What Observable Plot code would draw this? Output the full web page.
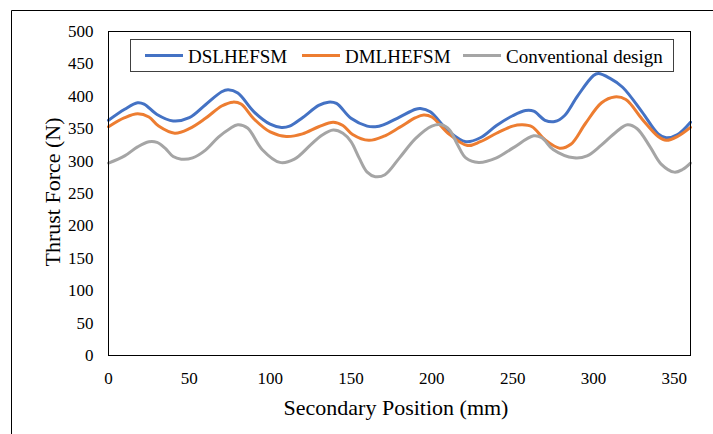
<!DOCTYPE html>
<html>
<head>
<meta charset="utf-8">
<script src="https://cdn.jsdelivr.net/npm/d3@7"></script>
<script src="https://cdn.jsdelivr.net/npm/@observablehq/plot@0.6"></script>
<style>
  html, body { margin: 0; padding: 0; background: #fff; }
  #chart { width: 713px; height: 434px; overflow: hidden; }
  #chart svg, #chart svg text { font-family: "Liberation Serif", "Times New Roman", serif !important; }
</style>
</head>
<body>
<div id="chart"></div>
<script>
// ---- Data ----
const seriesNames = ["DSLHEFSM", "DMLHEFSM", "Conventional design"];
const seriesColors = ["#4472C4", "#ED7D31", "#A5A5A5"];

const dslX = [0, 10, 18, 22, 30, 40, 50, 60, 70, 74, 80, 90, 100, 107, 112, 120, 130, 136, 141, 150, 160, 165, 170, 180, 190, 193, 199, 210, 221, 230, 240, 250, 258, 263, 270, 276, 282, 290, 300, 303, 310, 318, 330, 340, 345, 352, 360];
const dslY = [363, 380, 390, 388, 372, 362, 367, 387, 407, 410, 405, 376, 357, 352, 354, 367, 386, 391, 389, 366, 354, 353, 356, 368, 380, 381, 376, 347, 330, 336, 355, 370, 378, 377, 363, 361, 370, 400, 432, 435, 428, 414, 376, 342, 336, 341, 360];

const dmlX = [0, 10, 18, 25, 31, 41, 50, 60, 70, 77, 82, 90, 100, 110, 120, 130, 139, 145, 151, 161, 170, 180, 190, 195, 200, 210, 222, 230, 240, 250, 256, 262, 270, 279, 286, 295, 305, 313, 320, 330, 340, 345, 352, 360];
const dmlY = [353, 367, 373, 368, 354, 343, 350, 366, 385, 391, 388, 365, 345, 338, 342, 353, 360, 355, 341, 332, 338, 352, 367, 371, 368, 343, 324, 330, 343, 354, 356, 353, 333, 320, 326, 358, 390, 399, 395, 365, 338, 332, 338, 352];

const convX = [0, 10, 18, 25, 30, 35, 40, 45, 52, 60, 68, 75, 80, 86, 95, 106, 115, 125, 132, 139, 145, 150, 155, 160, 165, 171, 180, 190, 200, 206, 211, 216, 221, 229, 240, 250, 263, 268, 275, 288, 296, 305, 314, 321, 327, 335, 342, 350, 355, 360];
const convY = [297, 308, 322, 330, 329, 320, 307, 303, 305, 317, 337, 350, 356, 351, 318, 298, 303, 325, 340, 348, 343, 330, 305, 283, 276, 279, 305, 335, 354, 356, 348, 325, 305, 298, 305, 320, 339, 336, 318, 305, 308, 325, 345, 356, 350, 322, 295, 283, 287, 297];

const xTicks = [0, 50, 100, 150, 200, 250, 300, 350];
const yTicks = [0, 50, 100, 150, 200, 250, 300, 350, 400, 450, 500];
const xTitle = "Secondary Position (mm)";
const yTitle = "Thrust Force (N)";

// ---- Build table ----
const rows = [];
[[dslX, dslY], [dmlX, dmlY], [convX, convY]].forEach(([xs, ys], i) => {
  xs.forEach((x, j) => rows.push({series: seriesNames[i], x, y: ys[j]}));
});

const font = "Liberation Serif, Times New Roman, serif";

const svg = Plot.plot({
  width: 713,
  height: 434,
  marginLeft: 108,
  marginRight: 23,
  marginTop: 31,
  marginBottom: 79,
  style: {fontFamily: font, fontSize: "17px", background: "#fff", color: "#000", overflow: "visible"},
  x: {domain: [0, 360], label: null},
  y: {domain: [0, 500], label: null},
  color: {domain: seriesNames, range: seriesColors},
  marks: [
    Plot.axisX({ticks: xTicks, tickSize: 0, tickPadding: 16, label: null, tickFormat: d => String(d), fontSize: 17}),
    Plot.axisY({ticks: yTicks, tickSize: 0, tickPadding: 15, label: null, tickFormat: d => String(d), fontSize: 17}),
    Plot.line(rows, {x: "x", y: "y", z: "series", stroke: "series", strokeWidth: 3, curve: "catmull-rom", strokeLinejoin: "round", strokeLinecap: "round"}),
    Plot.frame({stroke: "#000", strokeWidth: 1})
  ]
});

document.getElementById("chart").appendChild(svg);

const s = d3.select(svg);

// outer chart border (top and left visible in reference)
s.append("line").attr("x1", 11.5).attr("y1", 10.5).attr("x2", 713).attr("y2", 10.5).attr("stroke", "#000");
s.append("line").attr("x1", 11.5).attr("y1", 10.5).attr("x2", 11.5).attr("y2", 434).attr("stroke", "#000");

// axis titles
s.append("text")
  .attr("x", 396).attr("y", 407)
  .attr("text-anchor", "middle").attr("dominant-baseline", "central")
  .style("font-size", "22px").attr("fill", "#000")
  .text(xTitle);
s.append("text")
  .attr("transform", "translate(52,192) rotate(-90)")
  .attr("text-anchor", "middle").attr("dominant-baseline", "central")
  .style("font-size", "22px").attr("fill", "#000")
  .text(yTitle);

// legend
const lg = s.append("g");
lg.append("rect").attr("x", 130.5).attr("y", 39.5).attr("width", 543).attr("height", 32)
  .attr("fill", "#fff").attr("stroke", "#404040").attr("stroke-width", 1);
const swatchX = [145, 302, 463];
seriesNames.forEach((name, i) => {
  lg.append("line").attr("x1", swatchX[i]).attr("x2", swatchX[i] + 38).attr("y1", 55.5).attr("y2", 55.5)
    .attr("stroke", seriesColors[i]).attr("stroke-width", 3);
  lg.append("text").attr("x", swatchX[i] + 43).attr("y", 56)
    .attr("text-anchor", "start")
    .attr("dominant-baseline", "central")
    .style("font-size", "19px").attr("fill", "#000")
    .text(name);
});
</script>
</body>
</html>
